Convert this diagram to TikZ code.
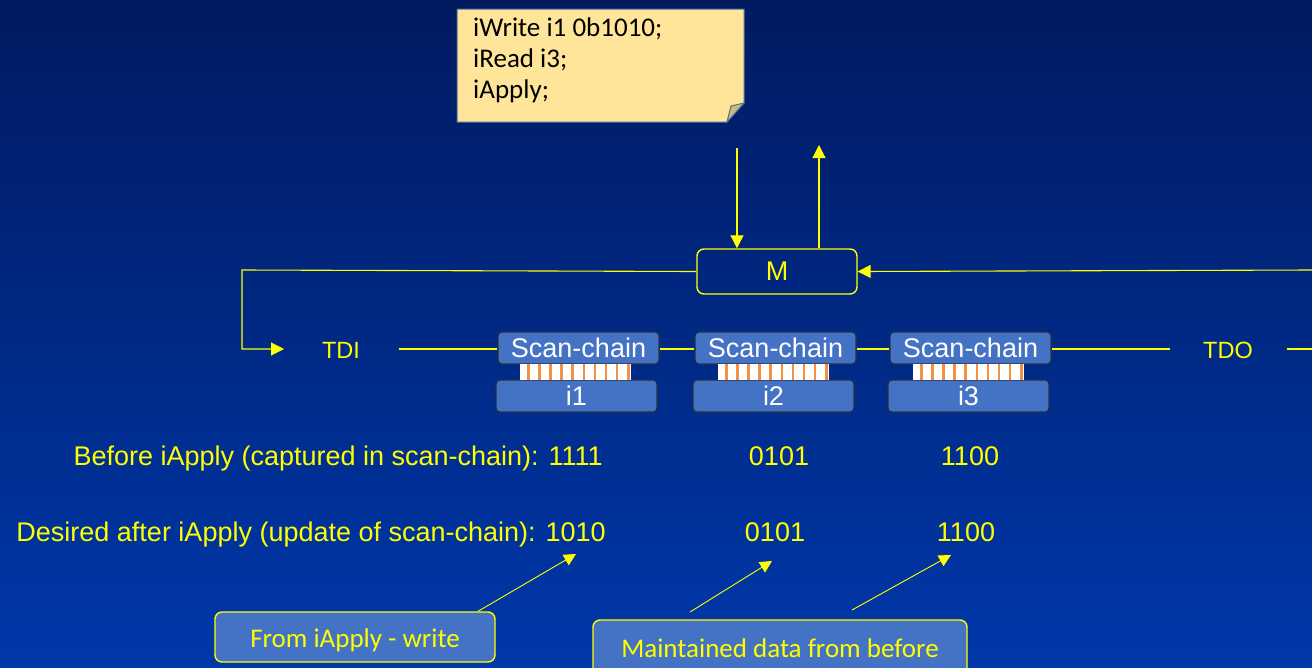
\documentclass[tikz,border=0pt]{standalone}
\usepackage{fontspec}
\setmainfont{Liberation Sans}
\newfontfamily\calibri{Carlito}
\usetikzlibrary{arrows.meta,calc}
\definecolor{bgtop}{RGB}{0,26,96}
\definecolor{bgbot}{RGB}{0,56,170}
\definecolor{boxblue}{RGB}{68,114,196}
\definecolor{boxedge}{RGB}{40,48,64}
\definecolor{notefill}{RGB}{255,229,153}
\definecolor{noteedge}{RGB}{80,110,160}
\definecolor{notefold}{RGB}{205,185,125}
\definecolor{stripe}{RGB}{245,145,70}
\definecolor{wire}{RGB}{255,255,0}
\tikzset{
  wireline/.style={draw=wire, line width=1.1pt},
  arr/.style={wireline, -{Triangle[length=13pt,width=13pt]}},
  chainbox/.style={draw=boxedge, line width=1.2pt, fill=boxblue, rounded corners=4pt,
    minimum width=161pt, minimum height=32pt, inner sep=0pt, text=white,
    font=\fontsize{27}{27}\selectfont},
  callout/.style={draw=wire, line width=1.4pt, fill=boxblue, rounded corners=7pt,
    inner sep=0pt, text=wire, font=\calibri\fontsize{27}{27}\selectfont},
  label/.style={text=wire, inner sep=0pt, font=\fontsize{27}{27}\selectfont},
  pin/.style={text=wire, inner sep=0pt, font=\fontsize{23.5}{23.5}\selectfont},
}
\begin{document}
\begin{tikzpicture}[x=1pt,y=-1pt]
\useasboundingbox (0,0) rectangle (1312,667);
\clip (0,0) rectangle (1312,667);
\shade[top color=bgtop, bottom color=bgbot] (0,0) rectangle (1312,667);

% command note with folded corner
\filldraw[fill=notefill, draw=noteedge, line width=1pt]
  (457,9) -- (744,9) -- (744,103) -- (727,122) -- (457,122) -- cycle;
\filldraw[fill=notefold, draw=noteedge, line width=1pt]
  (727,122) -- (731,106) -- (744,103) -- cycle;
\node[anchor=north west, align=left, inner sep=0pt,
      font=\calibri\fontsize{27}{31}\selectfont] (note) at (473,18)
  {iWrite i1 0b1010;\\iRead i3;\\iApply;};

% controller
\node[draw=wire, line width=1.4pt, rounded corners=7pt, minimum width=160pt,
      minimum height=45pt, inner sep=0pt, text=wire,
      font=\fontsize{27}{27}\selectfont] (M) at (777,271.5) {M};

\coordinate (cmdIn) at (737,148);
\coordinate (respOut) at (819,145);
\draw[arr] (cmdIn) -- (cmdIn |- M.north);
\draw[arr] (respOut |- M.north) -- (respOut);

% scan chains and their instruments
\node[chainbox] (sc1) at (578.5,348) {Scan-chain};
\node[chainbox] (sc2) at (775.5,348) {Scan-chain};
\node[chainbox] (sc3) at (970.5,348) {Scan-chain};
\node[chainbox] (i1) at (576.5,396) {i1};
\node[chainbox] (i2) at (773.5,396) {i2};
\node[chainbox] (i3) at (968.5,396) {i3};

\foreach \x in {520,718,913}{
  \fill[white] (\x,364) rectangle +(111,16);
  \foreach \k in {0,...,9}
    \fill[stripe] ({\x+7+\k*11.1},364) rectangle +(2.6,16);
}

% TDI / TDO path
\node[pin] (TDI) at (341,350) {TDI};
\node[pin] (TDO) at (1228,350) {TDO};
\coordinate (loopL) at (242,270);
\coordinate (tdiIn) at (284,349);
\coordinate (tdiOut) at (399,349);
\coordinate (tdoIn) at (1170,349);
\coordinate (tdoOut) at (1287,349);
\coordinate (tdoEnd) at (1312,349);
\coordinate (retIn) at (1312,270);
\draw[arr] (M.west) -- (loopL) |- (tdiIn);
\draw[arr] (retIn) -- (M.east);
\draw[wireline] (tdiOut) -- (sc1.west |- tdiOut);
\draw[wireline] (sc1.east |- tdiOut) -- (sc2.west |- tdiOut);
\draw[wireline] (sc2.east |- tdiOut) -- (sc3.west |- tdiOut);
\draw[wireline] (sc3.east |- tdiOut) -- (tdoIn);
\draw[wireline] (tdoOut) -- (tdoEnd);

% register values
\node[label, anchor=base east] (before) at (603,465) {Before iApply (captured in scan-chain): 1111};
\node[label, anchor=base] (b2) at (779,465) {0101};
\node[label, anchor=base] (b3) at (970,465) {1100};
\node[label, anchor=base east] (desired) at (606,541) {Desired after iApply (update of scan-chain): 1010};
\node[label, anchor=base] (d2) at (775,541) {0101};
\node[label, anchor=base] (d3) at (966,541) {1100};

% callouts
\node[callout, minimum width=280pt, minimum height=50pt,
      text height=22pt, text depth=2pt] (wbox) at (355,637) {From iApply - write};
\node[callout, minimum width=374pt, minimum height=62pt,
      text height=16pt, text depth=4pt] (mbox) at (780,651) {Maintained data from before};
\coordinate (tip1) at (576,554);
\coordinate (tip2) at (772,561);
\coordinate (tip3) at (951,555);
\coordinate (from2) at (690,612);
\coordinate (from3) at (852,610);
\draw[wireline, line width=0.9pt, -{Triangle[length=12pt,width=12pt]}] ([xshift=123pt]wbox.north) -- (tip1);
\draw[wireline, line width=0.9pt, -{Triangle[length=12pt,width=12pt]}] (from2) -- (tip2);
\draw[wireline, line width=0.9pt, -{Triangle[length=12pt,width=12pt]}] (from3) -- (tip3);
\end{tikzpicture}
\end{document}
